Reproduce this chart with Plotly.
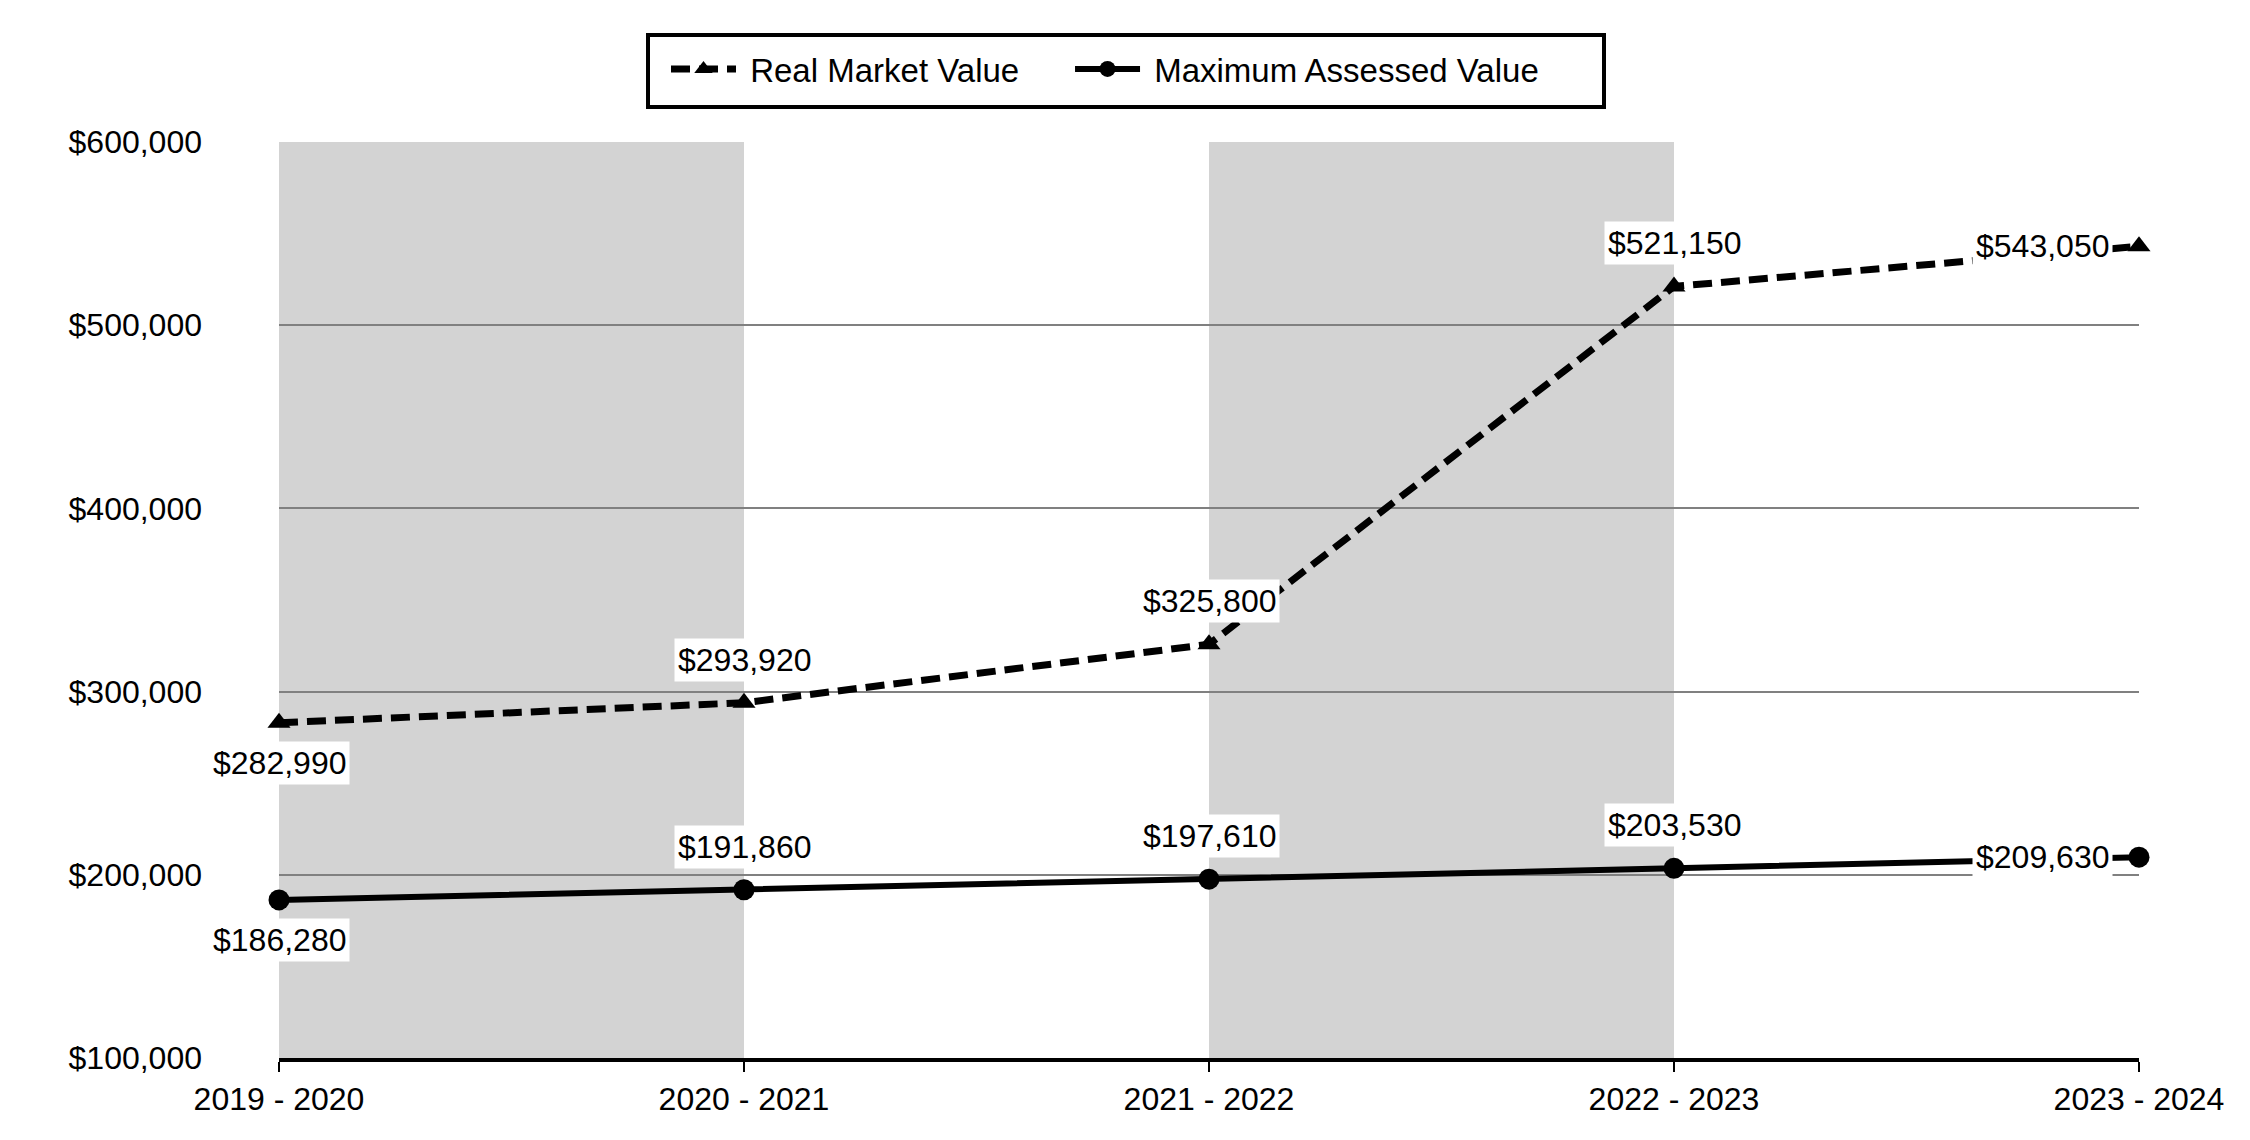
import plotly.graph_objects as go

categories = ["2019 - 2020", "2020 - 2021", "2021 - 2022", "2022 - 2023", "2023 - 2024"]
real_market = [282990, 293920, 325800, 521150, 543050]
max_assessed = [186280, 191860, 197610, 203530, 209630]
y_ticks = [100000, 200000, 300000, 400000, 500000, 600000]
series_names = ["Real Market Value", "Maximum Assessed Value"]

x = list(range(len(categories)))
FONT = "Liberation Sans, Arial, sans-serif"
FS = 32
LFS = 33
NB = "\u00a0"

W, H = 2250, 1140
OFF = 8  # page body margin offset
# target plot box in screenshot pixels
PL, PR, PT, PB = 279, 2139, 142, 1058
ML, MT = PL - OFF, PT - OFF
PW, PH = PR - PL, PB - PT
MR, MB = W - ML - PW, H - MT - PH

fig = go.Figure()
fig.add_trace(go.Scatter(
    x=x, y=real_market, name=NB + series_names[0] + NB * 5, mode="lines+markers",
    line=dict(color="black", width=7, dash="19px,9px"),
    marker=dict(symbol="triangle-up", size=20, color="black"),
    cliponaxis=False,
))
fig.add_trace(go.Scatter(
    x=x, y=max_assessed, name=NB + series_names[1], mode="lines+markers",
    line=dict(color="black", width=6),
    marker=dict(symbol="circle", size=21, color="black"),
    cliponaxis=False,
))

# alternating background bands
for i in range(0, len(categories) - 1, 2):
    fig.add_shape(type="rect", xref="x", yref="y", x0=x[i], x1=x[i + 1],
                  y0=y_ticks[0], y1=y_ticks[-1], fillcolor="#d3d3d3",
                  line=dict(width=0), layer="below")

# legend frame (screenshot pixel box converted to paper coordinates)
lx0, lx1, ly0, ly1 = 648, 1604, 35, 107
fig.add_shape(type="rect", xref="paper", yref="paper",
              x0=(lx0 - PL) / PW, x1=(lx1 - PL) / PW,
              y0=(PB - ly1) / PH, y1=(PB - ly0) / PH,
              line=dict(color="black", width=4), fillcolor="rgba(0,0,0,0)")

def add_labels(values):
    n = len(values)
    for i, v in enumerate(values):
        txt = "${:,}".format(v)
        if i == 0:
            kw = dict(xanchor="center", yanchor="middle", yshift=-40)
        elif i == n - 1:
            kw = dict(xanchor="right", yanchor="middle", xshift=-26)
        else:
            kw = dict(xanchor="center", yanchor="middle", yshift=43)
        fig.add_annotation(x=x[i], y=v, text=txt, showarrow=False,
                           bgcolor="white", borderpad=3,
                           font=dict(size=FS, color="black", family=FONT), **kw)

add_labels(real_market)
add_labels(max_assessed)

fig.update_layout(
    width=W, height=H,
    margin=dict(l=ML, r=MR, t=MT, b=MB),
    paper_bgcolor="white", plot_bgcolor="white",
    font=dict(family=FONT, size=FS, color="black"),
    showlegend=True,
    legend=dict(
        orientation="h", xref="container", yref="container",
        x=658 / W, xanchor="left", y=1 - 61 / H, yanchor="middle",
        borderwidth=0, bgcolor="rgba(0,0,0,0)",
        font=dict(size=LFS, family=FONT, color="black"),
        itemwidth=65,
    ),
    xaxis=dict(
        range=[0, len(categories) - 1], tickvals=x, ticktext=categories,
        showgrid=False, zeroline=False, showline=True, linecolor="black",
        linewidth=4, ticks="outside", ticklen=10, tickwidth=2, tickcolor="black",
        tickfont=dict(size=FS, family=FONT, color="black"),
    ),
    yaxis=dict(
        range=[y_ticks[0], y_ticks[-1]], tickvals=y_ticks, tickformat="$,.0f",
        showgrid=True, gridcolor="#808080", gridwidth=2, zeroline=False,
        showline=False, ticks="", ticklabelstandoff=76,
        tickfont=dict(size=FS, family=FONT, color="black"),
    ),
)

fig.write_html("out.html")
